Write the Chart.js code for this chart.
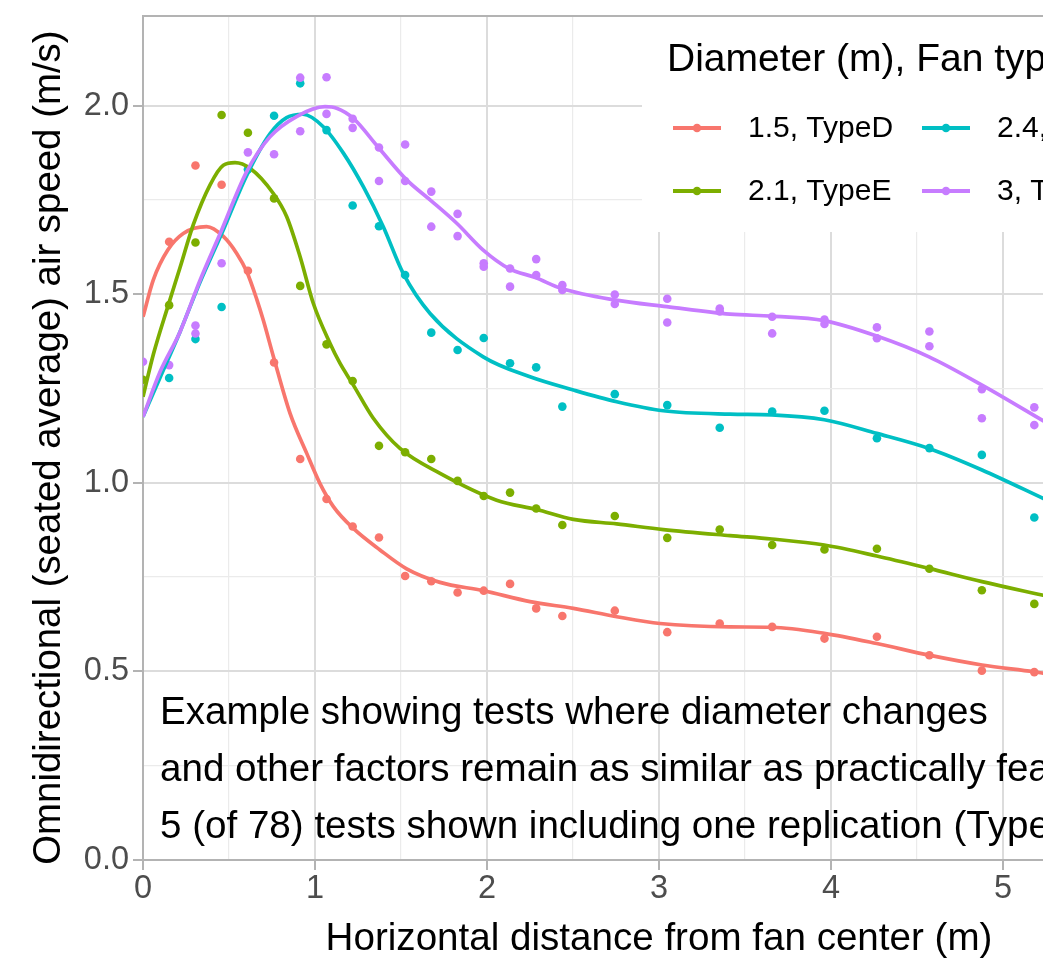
<!DOCTYPE html>
<html>
<head>
<meta charset="utf-8">
<title>Air speed vs distance from fan centre</title>
<script src="https://cdn.jsdelivr.net/npm/chart.js@4.4.1/dist/chart.umd.min.js"></script>
<style>
  html, body { margin: 0; padding: 0; overflow: hidden; background: #ffffff; }
  canvas { display: block; }
</style>
</head>
<body>
<canvas id="chart" width="1200" height="966"></canvas>
<script>
// Measurement positions (m): every half foot out to 8 ft, then every foot to 17 ft
const distances = [0.152, 0.305, 0.457, 0.610, 0.762, 0.914, 1.067, 1.219, 1.372, 1.524,
  1.676, 1.829, 1.981, 2.134, 2.286, 2.438, 2.743, 3.048, 3.353, 3.658, 3.962, 4.267,
  4.572, 4.877, 5.182];

const seriesLabels = ['1.5, TypeD', '2.1, TypeE', '2.4, TypeB', '3, TypeA'];
const seriesColors = ['#F8766D', '#7CAE00', '#00BFC4', '#C77CFF'];

// Seated-average omnidirectional air speed (m/s) at each distance
const speedD15 = [1.639, 1.841, 1.790, 1.562, 1.319, 1.063, 0.957, 0.884, 0.855, 0.753,
  0.739, 0.709, 0.714, 0.732, 0.667, 0.647, 0.661, 0.604, 0.627, 0.618, 0.587, 0.592,
  0.543, 0.502, 0.498];
const speedE21 = [1.471, 1.637, 1.975, 1.928, 1.754, 1.522, 1.367, 1.270, 1.098, 1.081,
  1.063, 1.005, 0.965, 0.974, 0.932, 0.888, 0.912, 0.854, 0.876, 0.835, 0.823, 0.825,
  0.772, 0.715, 0.679];
const speedB24 = [1.278, 1.381, 1.466, 1.831, 1.973, 2.059, 1.935, 1.735, 1.680, 1.551,
  1.398, 1.352, 1.384, 1.317, 1.306, 1.202, 1.235, 1.206, 1.146, 1.189, 1.191, 1.118,
  1.092, 1.074, 0.908];
// 3 m fan: original test and its replication
const speedA30run1 = [1.312, 1.417, 1.582, 1.876, 1.871, 2.074, 2.075, 1.965, 1.889, 1.897,
  1.772, 1.713, 1.582, 1.568, 1.593, 1.524, 1.499, 1.488, 1.462, 1.440, 1.433, 1.412,
  1.401, 1.248, 1.200];
const speedA30run2 = [null, 1.396, null, null, null, 1.932, 1.978, 1.941, 1.800, 1.800,
  1.679, 1.654, 1.573, 1.520, 1.551, 1.511, 1.474, 1.425, 1.454, 1.396, 1.421, 1.383,
  1.362, 1.171, 1.153];
// readings directly under the fan centre (x = 0)
const centreSpeeds = [null, 1.273, null, 1.321];

// Smoothed (loess) trend for each fan
const fitD15x = [0, 0.06, 0.144, 0.234, 0.37, 0.467, 0.545, 0.603, 0.661, 0.70, 0.758, 0.855,
  0.952, 1.029, 1.107, 1.223, 1.378, 1.533, 1.727, 1.978, 2.25, 2.502, 2.754, 3.006, 3.413,
  3.655, 3.961, 4.266, 4.57, 4.878, 5.18, 5.25];
const fitD15y = [1.44, 1.538, 1.617, 1.661, 1.679, 1.653, 1.608, 1.56, 1.487, 1.43, 1.335, 1.184,
  1.078, 0.998, 0.937, 0.879, 0.822, 0.772, 0.736, 0.714, 0.685, 0.667, 0.645, 0.627, 0.618,
  0.617, 0.601, 0.574, 0.543, 0.517, 0.499, 0.494];

const fitE21x = [0, 0.06, 0.147, 0.215, 0.293, 0.39, 0.467, 0.535, 0.622, 0.758, 0.835, 0.913,
  0.99, 1.087, 1.145, 1.223, 1.339, 1.494, 1.727, 2.056, 2.289, 2.502, 2.754, 3.025, 3.413,
  3.655, 3.961, 4.266, 4.57, 4.878, 5.25];
const fitE21y = [1.228, 1.34, 1.471, 1.57, 1.685, 1.79, 1.842, 1.849, 1.834, 1.767, 1.706, 1.600,
  1.476, 1.370, 1.317, 1.259, 1.171, 1.091, 1.025, 0.954, 0.929, 0.903, 0.891, 0.876, 0.860,
  0.851, 0.835, 0.806, 0.773, 0.738, 0.700];

const fitB24x = [0, 0.1, 0.215, 0.33, 0.457, 0.603, 0.738, 0.835, 0.93, 1.048, 1.165, 1.281,
  1.397, 1.513, 1.669, 1.978, 2.25, 2.502, 2.754, 3.025, 3.413, 3.655, 3.961, 4.266, 4.57,
  4.878, 5.25];
const fitB24y = [1.175, 1.28, 1.40, 1.53, 1.66, 1.815, 1.925, 1.968, 1.977, 1.944, 1.874, 1.785,
  1.679, 1.555, 1.449, 1.334, 1.281, 1.246, 1.215, 1.191, 1.182, 1.180, 1.167, 1.131, 1.091,
  1.034, 0.955];

const fitA30x = [0, 0.1, 0.215, 0.33, 0.448, 0.603, 0.738, 0.893, 1.058, 1.126, 1.223, 1.365,
  1.533, 1.669, 1.824, 1.978, 2.128, 2.281, 2.434, 2.74, 3.045, 3.413, 3.655, 3.961, 4.266,
  4.57, 4.878, 5.25];
const fitA30y = [1.175, 1.295, 1.40, 1.535, 1.66, 1.825, 1.917, 1.971, 1.997, 1.993, 1.966, 1.891,
  1.803, 1.75, 1.688, 1.617, 1.568, 1.544, 1.515, 1.485, 1.467, 1.447, 1.442, 1.430, 1.389,
  1.334, 1.259, 1.160];

// Axis breaks (major every 1 m / 0.5 m/s, minor halfway between)
const xTickValues = [0, 0.5, 1, 1.5, 2, 2.5, 3, 3.5, 4, 4.5, 5, 5.5, 6];
const yTickValues = [0, 0.25, 0.5, 0.75, 1, 1.25, 1.5, 1.75, 2];
const xMax = 6;
const yMax = 2.2375;

const xTitle = 'Horizontal distance from fan center (m)';
const yTitle = 'Omnidirectional (seated average) air speed (m/s)\u2002';
const legendTitle = 'Diameter (m), Fan type';
const noteLines = [
  'Example showing tests where diameter changes',
  'and other factors remain as similar as practically feasible',
  '5 (of 78) tests shown including one replication (TypeA, 3 m)'
];

const FONT = "'Liberation Sans', Arial, Helvetica, sans-serif";
Chart.defaults.font.family = FONT;

const toPoints = (xs, ys) => xs.map((x, i) => ({ x: x, y: ys[i] })).filter(p => p.y !== null);

const pointSets = [
  toPoints([0].concat(distances), [centreSpeeds[0]].concat(speedD15)),
  toPoints([0].concat(distances), [centreSpeeds[1]].concat(speedE21)),
  toPoints([0].concat(distances), [centreSpeeds[2]].concat(speedB24)),
  toPoints([0].concat(distances, distances), [centreSpeeds[3]].concat(speedA30run1, speedA30run2))
];
const fitSets = [
  toPoints(fitD15x, fitD15y),
  toPoints(fitE21x, fitE21y),
  toPoints(fitB24x, fitB24y),
  toPoints(fitA30x, fitA30y)
];

const datasets = [];
// trend lines above the points; later series drawn on top
fitSets.forEach((pts, i) => {
  datasets.push({
    type: 'line', label: seriesLabels[i], data: pts,
    borderColor: seriesColors[i], borderWidth: 3.7, pointRadius: 0,
    cubicInterpolationMode: 'monotone', fill: false, clip: 0,
    order: 3 - i
  });
});
pointSets.forEach((pts, i) => {
  datasets.push({
    type: 'scatter', label: seriesLabels[i], data: pts,
    backgroundColor: seriesColors[i], borderWidth: 0,
    pointRadius: 4.3, pointHoverRadius: 4.3, clip: 0,
    order: 7 - i
  });
});

const isMajorX = v => Math.abs(v - Math.round(v)) < 1e-9;
const isMajorY = v => Math.abs(v * 2 - Math.round(v * 2)) < 1e-9;
const GRID_MAJOR = '#DCDCDC';
const GRID_MINOR = '#EBEBEB';
const FRAME = '#B3B3B3';

// legend, note text and the panel's top edge
const panelDecor = {
  id: 'panelDecor',
  beforeDatasetsDraw(chart) {
    const { ctx, chartArea: a } = chart;
    ctx.save();

    // note in the lower left of the panel
    ctx.fillStyle = '#000000';
    ctx.font = '38.6px ' + FONT;
    ctx.textAlign = 'left';
    ctx.textBaseline = 'alphabetic';
    noteLines.forEach((line, i) => ctx.fillText(line, a.left + 17, 724 + i * 57));

    // legend panel
    const boxLeft = 642, boxBottom = 232;
    ctx.fillStyle = '#ffffff';
    ctx.fillRect(boxLeft, a.top, a.right - boxLeft, boxBottom - a.top);

    ctx.fillStyle = '#000000';
    ctx.font = '39px ' + FONT;
    ctx.fillText(legendTitle, 667, 71);

    ctx.font = '30px ' + FONT;
    ctx.textBaseline = 'middle';
    seriesLabels.forEach((label, i) => {
      const col = Math.floor(i / 2), row = i % 2;
      const kx = 673 + col * 249, ky = 128 + row * 63;
      ctx.strokeStyle = seriesColors[i];
      ctx.lineWidth = 4;
      ctx.beginPath();
      ctx.moveTo(kx, ky);
      ctx.lineTo(kx + 48, ky);
      ctx.stroke();
      ctx.fillStyle = seriesColors[i];
      ctx.beginPath();
      ctx.arc(kx + 24, ky, 4.3, 0, Math.PI * 2);
      ctx.fill();
      ctx.fillStyle = '#000000';
      ctx.fillText(label, 748 + col * 249, ky + 1);
    });

    // top edge of the panel frame
    ctx.strokeStyle = FRAME;
    ctx.lineWidth = 2;
    ctx.beginPath();
    ctx.moveTo(a.left, a.top);
    ctx.lineTo(a.right, a.top);
    ctx.stroke();
    ctx.restore();
  }
};

new Chart(document.getElementById('chart'), {
  type: 'scatter',
  data: { datasets: datasets },
  plugins: [panelDecor],
  options: {
    responsive: false,
    animation: false,
    events: [],
    layout: { padding: { top: 16, right: 25, bottom: 0, left: 0 } },
    plugins: { legend: { display: false }, tooltip: { enabled: false } },
    scales: {
      x: {
        type: 'linear', min: 0, max: xMax,
        afterBuildTicks: s => { s.ticks = xTickValues.map(v => ({ value: v })); },
        afterFit: s => { s.height = 106; s.paddingLeft = 0; s.paddingRight = 0; },
        ticks: {
          autoSkip: false, maxRotation: 0, minRotation: 0, padding: 0,
          color: '#4D4D4D', font: { size: 32.5 },
          callback: v => isMajorX(v) ? String(Math.round(v)) : ''
        },
        grid: {
          color: c => isMajorX(c.tick.value) ? GRID_MAJOR : GRID_MINOR,
          lineWidth: c => isMajorX(c.tick.value) ? 2 : 1.2,
          tickLength: 10,
          tickColor: c => isMajorX(c.tick.value) ? FRAME : 'rgba(0,0,0,0)',
          tickWidth: 2
        },
        border: { color: FRAME, width: 2 },
        title: {
          display: true, text: xTitle, color: '#000000',
          font: { size: 38.6 }, padding: { top: 0, bottom: 3 }
        }
      },
      y: {
        type: 'linear', min: 0, max: yMax,
        afterBuildTicks: s => { s.ticks = yTickValues.map(v => ({ value: v })); },
        afterFit: s => { s.width = 143; s.paddingTop = 0; s.paddingBottom = 0; },
        ticks: {
          autoSkip: false, padding: 4, color: '#4D4D4D', font: { size: 32.5 },
          callback: v => isMajorY(v) ? v.toFixed(1) : ''
        },
        grid: {
          color: c => isMajorY(c.tick.value) ? GRID_MAJOR : GRID_MINOR,
          lineWidth: c => isMajorY(c.tick.value) ? 2 : 1.2,
          tickLength: 10,
          tickColor: c => isMajorY(c.tick.value) ? FRAME : 'rgba(0,0,0,0)',
          tickWidth: 2
        },
        border: { color: FRAME, width: 2 },
        title: {
          display: true, text: yTitle, color: '#000000',
          font: { size: 38.4 }, padding: { top: 26, bottom: 0 }
        }
      }
    }
  }
});
</script>
</body>
</html>
